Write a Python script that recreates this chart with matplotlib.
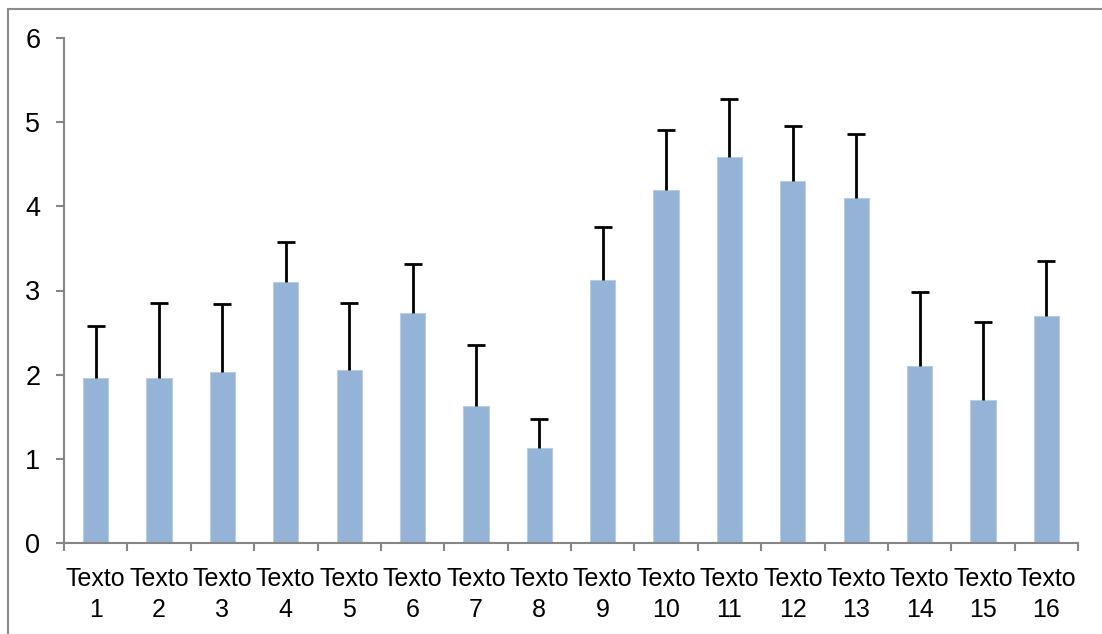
import matplotlib
matplotlib.use("Agg")
import matplotlib.pyplot as plt
from matplotlib.lines import Line2D
import numpy as np

categories = [f"Texto\n{i}" for i in range(1, 17)]
values = [1.96, 1.96, 2.03, 3.10, 2.06, 2.73, 1.63, 1.13, 3.13, 4.20, 4.59, 4.30, 4.10, 2.10, 1.70, 2.70]
err_tops = [2.58, 2.85, 2.84, 3.58, 2.85, 3.31, 2.35, 1.47, 3.76, 4.91, 5.28, 4.95, 4.86, 2.98, 2.62, 3.35]
errors = [t - v for t, v in zip(err_tops, values)]
y_ticks = [0, 1, 2, 3, 4, 5, 6]

W, H = 1102, 634
fig = plt.figure(figsize=(W / 100, H / 100), dpi=100)
plt.rcParams['font.family'] = ['Liberation Sans', 'DejaVu Sans']

ax = fig.add_axes([64 / W, (H - 543) / H, (1078 - 64) / W, (543 - 38) / H])
x = np.arange(len(categories))
ax.bar(x, values, width=0.4, color='#95b3d7', edgecolor='#b8cce4', linewidth=0.8, zorder=2)
_, caplines, _ = ax.errorbar(x, values, yerr=[np.zeros(len(errors)), errors], fmt='none',
                             ecolor='black', elinewidth=2, capsize=6.5, capthick=2, zorder=3)
for cl in caplines:
    if np.allclose(np.asarray(cl.get_ydata(), dtype=float), values):
        cl.set_visible(False)

ax.set_xlim(-0.5, len(categories) - 0.5)
ax.set_ylim(0, 6)
ax.set_yticks(y_ticks)
ax.set_yticklabels([str(t) for t in y_ticks], fontsize=19.5)
ax.set_xticks(x)
ax.set_xticklabels(categories, fontsize=18, linespacing=1.38)
ax.set_xticks(np.arange(-0.5, len(categories), 1.0), minor=True)

axis_col = '#868686'
for s in ['top', 'right']:
    ax.spines[s].set_visible(False)
for s in ['left', 'bottom']:
    ax.spines[s].set_color(axis_col)
    ax.spines[s].set_linewidth(1.5)

ax.tick_params(axis='x', which='major', length=0, pad=17)
ax.tick_params(axis='x', which='minor', length=6, width=1.5, color=axis_col, direction='out')
ax.tick_params(axis='y', which='major', length=6, width=1.5, color=axis_col, direction='out', pad=11)

# outer chart frame (left and top edges)
fig.add_artist(Line2D([8 / W, 8 / W], [0, 1 - 9 / H], transform=fig.transFigure, color='#8c8c8c', linewidth=1.5))
fig.add_artist(Line2D([8 / W, 1], [1 - 9 / H, 1 - 9 / H], transform=fig.transFigure, color='#8c8c8c', linewidth=1.5))

fig.savefig("out.png", dpi=100)
